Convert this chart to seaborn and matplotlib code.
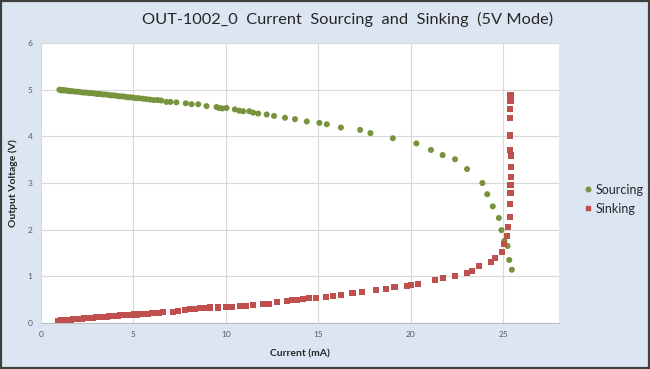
import matplotlib
matplotlib.use("Agg")
import matplotlib.pyplot as plt
import seaborn as sns
import pandas as pd
from matplotlib.patches import Rectangle
from matplotlib.lines import Line2D

# ---- data ----
source_x = [1.00, 1.05, 1.10, 1.15, 1.20, 1.30, 1.40, 1.50, 1.60, 1.70, 1.85, 2.00, 2.15, 2.30, 2.45,
            2.60, 2.75, 2.90, 3.05, 3.20, 3.35, 3.50, 3.65, 3.80, 3.95, 4.10, 4.25, 4.40, 4.55, 4.70,
            4.85, 5.00, 5.15, 5.30, 5.50, 5.70, 5.90, 6.10, 6.30, 6.50,
            6.78, 7.00, 7.32, 7.83, 8.14, 8.50, 8.95, 9.49, 9.63, 9.81, 10.03, 10.48, 10.72, 10.93,
            11.26, 11.47, 11.74, 12.20, 12.60, 13.19, 13.73, 14.37, 15.05, 15.45, 16.21, 17.25, 17.81,
            19.02, 20.29, 21.08, 21.71, 22.38, 23.03, 23.86, 24.12, 24.42, 24.75, 24.89, 25.05, 25.22,
            25.31, 25.45]
source_y = [5.00, 5.00, 4.99, 4.99, 4.99, 4.99, 4.98, 4.98, 4.97, 4.97, 4.96, 4.96, 4.95, 4.94, 4.94,
            4.93, 4.93, 4.92, 4.91, 4.91, 4.90, 4.90, 4.89, 4.88, 4.88, 4.87, 4.86, 4.86, 4.85, 4.84,
            4.84, 4.83, 4.82, 4.82, 4.81, 4.80, 4.79, 4.78, 4.78, 4.77,
            4.74, 4.74, 4.73, 4.71, 4.69, 4.69, 4.65, 4.63, 4.61, 4.60, 4.61, 4.58, 4.55, 4.54,
            4.54, 4.51, 4.49, 4.47, 4.44, 4.40, 4.37, 4.32, 4.29, 4.26, 4.19, 4.14, 4.07,
            3.96, 3.85, 3.71, 3.60, 3.51, 3.30, 3.00, 2.76, 2.50, 2.25, 1.99, 1.76, 1.65,
            1.35, 1.14]

sink_x = [0.90, 0.95, 1.00, 1.05, 1.10, 1.20, 1.30, 1.40, 1.50, 1.60, 1.75, 1.90, 2.05, 2.20, 2.35,
          2.50, 2.65, 2.80, 2.95, 3.10, 3.25, 3.40, 3.55, 3.70, 3.85, 4.00, 4.15, 4.30, 4.45, 4.60,
          4.75, 4.90, 5.05, 5.20, 5.40, 5.60, 5.80, 6.00, 6.20, 6.40,
          6.60, 7.14, 7.41, 7.77, 8.04, 8.32, 8.58, 8.85, 9.13, 9.58, 10.03, 10.30, 10.75, 11.08,
          11.44, 12.02, 12.34, 12.74, 13.30, 13.55, 13.82, 14.15, 14.51, 14.85, 15.41, 15.81, 16.21,
          16.84, 17.36, 18.12, 18.66, 19.11, 19.78, 20.00, 20.38, 21.28, 21.71, 22.38, 23.01, 23.32,
          23.70, 24.31, 24.53, 24.93, 25.04, 25.20, 25.23, 25.33, 25.36, 25.38, 25.38, 25.40, 25.40,
          25.40, 25.36, 25.33, 25.36, 25.36, 25.38, 25.43, 25.36, 25.43]
sink_y = [0.05, 0.05, 0.05, 0.05, 0.06, 0.06, 0.06, 0.07, 0.07, 0.07, 0.08, 0.08, 0.09, 0.09, 0.10,
          0.10, 0.11, 0.11, 0.12, 0.12, 0.12, 0.13, 0.13, 0.14, 0.14, 0.15, 0.15, 0.16, 0.16, 0.16,
          0.17, 0.17, 0.18, 0.18, 0.19, 0.19, 0.20, 0.21, 0.21, 0.22,
          0.23, 0.24, 0.26, 0.28, 0.29, 0.30, 0.31, 0.31, 0.33, 0.33, 0.34, 0.34, 0.36, 0.37,
          0.39, 0.41, 0.41, 0.44, 0.46, 0.49, 0.50, 0.51, 0.53, 0.54, 0.56, 0.57, 0.60,
          0.64, 0.67, 0.70, 0.73, 0.76, 0.79, 0.82, 0.84, 0.91, 0.96, 1.01, 1.08, 1.11,
          1.22, 1.30, 1.39, 1.53, 1.69, 1.87, 2.05, 2.28, 2.56, 2.79, 2.96, 3.13, 3.34,
          3.59, 3.71, 4.02, 4.39, 4.58, 4.77, 4.89, 4.89, 4.84]

series_names = ["Sourcing", "Sinking"]
x_ticks = [0, 5, 10, 15, 20, 25]
y_ticks = [0, 1, 2, 3, 4, 5, 6]

n = min(len(sink_x), len(sink_y))
df = pd.concat([
    pd.DataFrame({"Current": source_x, "Voltage": source_y, "Series": series_names[0]}),
    pd.DataFrame({"Current": sink_x[:n], "Voltage": sink_y[:n], "Series": series_names[1]}),
], ignore_index=True)

sns.set_theme(style="white")
plt.rcParams["font.family"] = ["Lato", "DejaVu Sans"]

BG = "#DCE6F2"
fig = plt.figure(figsize=(6.5, 3.69), dpi=100, facecolor=BG)
ax = fig.add_axes([0.063, 0.125, 0.797, 0.758])
ax.set_facecolor("white")

palette = {"Sourcing": "#77933C", "Sinking": "#C0504D"}
markers = {"Sourcing": "o", "Sinking": "s"}
sns.scatterplot(data=df, x="Current", y="Voltage", hue="Series", style="Series",
                palette=palette, markers=markers, s=19, linewidth=0, ax=ax, legend=False,
                zorder=3)

ax.set_xlim(0, 28)
ax.set_ylim(0, 6)
ax.set_xticks(x_ticks)
ax.set_yticks(y_ticks)
ax.grid(True, color="#D9D9D9", linewidth=0.8)
ax.set_axisbelow(True)
for s in ["top", "right", "left"]:
    ax.spines[s].set_visible(False)
ax.spines["bottom"].set_color("#BFBFBF")
ax.spines["bottom"].set_linewidth(0.8)
ax.tick_params(axis="both", length=0, labelsize=6, labelcolor="#595959", pad=6)

ax.set_xlabel("Current (mA)", fontsize=7.5, fontweight="bold", color="#262626", labelpad=8)
ax.set_ylabel("Output Voltage (V)", fontsize=7.5, fontweight="bold", color="#262626", labelpad=7)

fig.text(0.535, 0.948, "OUT-1002_0  Current  Sourcing  and  Sinking  (5V Mode)",
         ha="center", va="center", fontsize=11.8, color="#262626")

handles = [Line2D([], [], marker=markers[k], color=palette[k], linestyle="none", markersize=3.3)
           for k in series_names]
fig.legend(handles, series_names, loc="center left", bbox_to_anchor=(0.878, 0.46),
           frameon=False, fontsize=9, handletextpad=0.1, labelspacing=0.55, handlelength=1.0,
           labelcolor="#262626")

fig.patches.append(Rectangle((0.002, 0.003), 0.996, 0.994, transform=fig.transFigure,
                             fill=False, edgecolor="#3F3F3F", linewidth=1.6))

fig.savefig("out.png", dpi=100, facecolor=BG)
